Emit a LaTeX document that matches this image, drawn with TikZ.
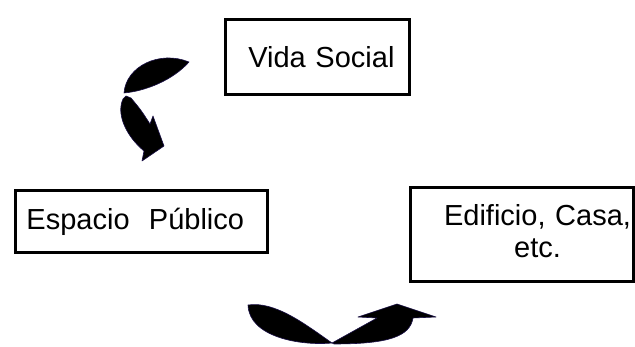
\documentclass[tikz,border=0pt]{standalone}
\usepackage{fontspec}
\setmainfont{Liberation Sans}
\usepackage{tikz}
\usetikzlibrary{backgrounds, positioning}
\definecolor{inkedge}{RGB}{25,15,70}

\begin{document}
\begin{tikzpicture}[x=1pt, y=-1pt,
    caja/.style={draw=black, line width=3pt, rectangle, anchor=north west,
                 font=\fontsize{29}{32}\selectfont, inner ysep=2pt},
    giro/.style={fill=black, draw=inkedge, line width=0.6pt, line join=round}]
\useasboundingbox (0,0) rectangle (635,347);
%
\node[caja, minimum height=75pt, inner xsep=14.5pt, text width=155pt, align=right]
  (vida) at (223.5,18.5) {Vida Social};
\node[caja, minimum height=62pt, inner xsep=11.5pt, text width=229pt, align=left]
  (espacio) at (13.5,189.5) {Espacio\ \ Público};
\node[caja, minimum height=94pt, inner xsep=2pt, text width=219pt, align=right]
  (edificio) at (408.5,186.5) {\begin{tabular}{@{}c@{}}Edificio, Casa,\\ etc.\end{tabular}};

% flecha de arriba
\fill[giro] (189,62) .. controls (160,50) and (126,66) .. (124,93)
  .. controls (146,91) and (173,80) .. (189,62) -- cycle;
\fill[giro] (126,96) -- (131,98) .. controls (141,110) .. (150,124) -- (153,116)
  -- (164,146) -- (142,161) -- (144,151)
  .. controls (126,136) and (116,114) .. (123,99) -- cycle;

% flecha de abajo
\fill[giro] (248,305) .. controls (275,301) and (305,324) .. (332,343)
  .. controls (300,346) and (249,337) .. (248,305) -- cycle;
\fill[giro] (332,343) -- (377,318) -- (358,317) -- (397,304) -- (436,317) -- (413,318)
  .. controls (410,336) and (390,344) .. (334,344) -- cycle;
%
\end{tikzpicture}
\end{document}
